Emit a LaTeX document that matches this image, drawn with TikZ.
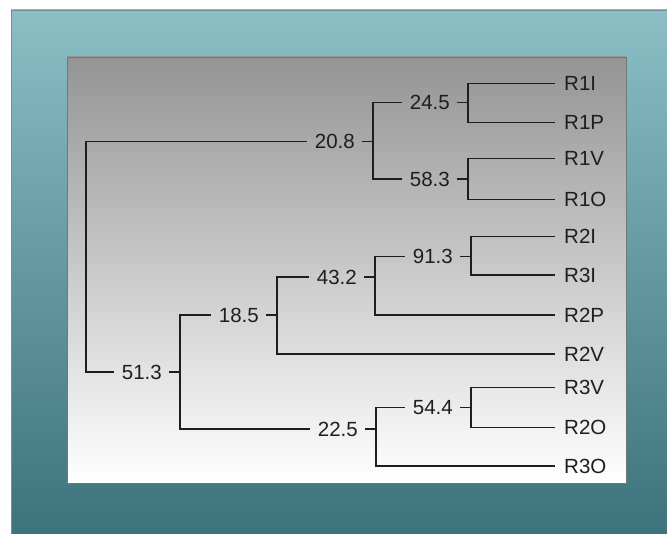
\documentclass[tikz,border=0pt]{standalone}
\usepackage{fontspec}
\setmainfont{Liberation Sans}
\definecolor{tealtop}{HTML}{8BBEC5}
\definecolor{tealbot}{HTML}{3D737C}
\definecolor{tealedge}{HTML}{6F9196}
\definecolor{paneltop}{HTML}{949494}
\definecolor{paneledge}{HTML}{767676}
\definecolor{ink}{HTML}{1E1E1E}
\begin{document}
\begin{tikzpicture}[x=1pt,y=-1pt,
  branch/.style={draw=ink, line width=1.4pt},
  labeltext/.style={inner ysep=0pt, text height=14.6pt, text depth=0pt,
    font=\fontsize{20.5}{24}\selectfont, text=ink},
  leaf/.style={labeltext, anchor=west, inner xsep=0pt},
  score/.style={labeltext, anchor=east, inner xsep=4pt},
]
\useasboundingbox (0,0) rectangle (667,534);

% backdrop and panel
\fill[white] (0,0) rectangle (667,534);
\shade[top color=tealtop, bottom color=tealbot] (11,10) rectangle (667,534);
\draw[tealedge, line width=0.8pt] (11,534) -- (11,10) -- (667,10);
\shade[top color=paneltop, bottom color=white] (67,57) rectangle (626,483);
\draw[paneledge, line width=0.8pt] (67,57) rectangle (626,483);

% leaves
\node[leaf] (R1I) at (564,83.3)  {R1I};
\node[leaf] (R1P) at (564,122.7) {R1P};
\node[leaf] (R1V) at (564,158.7) {R1V};
\node[leaf] (R1O) at (564,199.3) {R1O};
\node[leaf] (R2I) at (564,236.7) {R2I};
\node[leaf] (R3I) at (564,275)   {R3I};
\node[leaf] (R2P) at (564,315)   {R2P};
\node[leaf] (R2V) at (564,354)   {R2V};
\node[leaf] (R3V) at (564,387.3) {R3V};
\node[leaf] (R2O) at (564,427.7) {R2O};
\node[leaf] (R3O) at (564,466)   {R3O};

% junctions (vertical line x, score y) and their scores
\coordinate (jA) at (373,141.5);  \node[score] (sA) at (359,141.5) {20.8};
\coordinate (jB) at (468,102.7);  \node[score] (sB) at (454,102.7) {24.5};
\coordinate (jC) at (468,179);    \node[score] (sC) at (454,179)   {58.3};
\coordinate (jD) at (180,372);    \node[score] (sD) at (166,372)   {51.3};
\coordinate (jE) at (277,315);    \node[score] (sE) at (263,315)   {18.5};
\coordinate (jF) at (375,277);    \node[score] (sF) at (361,277)   {43.2};
\coordinate (jG) at (471,256.5);  \node[score] (sG) at (457,256.5) {91.3};
\coordinate (jH) at (376,429);    \node[score] (sH) at (362,429)   {22.5};
\coordinate (jK) at (471,407.7);  \node[score] (sK) at (457,407.7) {54.4};
\coordinate (root) at (86,256);

% ticks from each score to its junction
\foreach \s/\j in {sA/jA,sB/jB,sC/jC,sD/jD,sE/jE,sF/jF,sG/jG,sH/jH,sK/jK}
  \draw[branch] ([xshift=3pt]\s.east) -- (\j);

% branches to inner scores
\foreach \j/\s in {root/sA,root/sD,jA/sB,jA/sC,jD/sE,jD/sH,jE/sF,jF/sG,jH/sK}
  \draw[branch, shorten >=4pt] (\j) |- (\s.west);

% branches to leaves
\foreach \j/\l in {jB/R1I,jB/R1P,jC/R1V,jC/R1O,jG/R2I,jG/R3I,jF/R2P,jE/R2V,jK/R3V,jK/R2O,jH/R3O}
  \draw[branch] (\j) |- ([xshift=-9pt]\l.west);
\end{tikzpicture}
\end{document}
